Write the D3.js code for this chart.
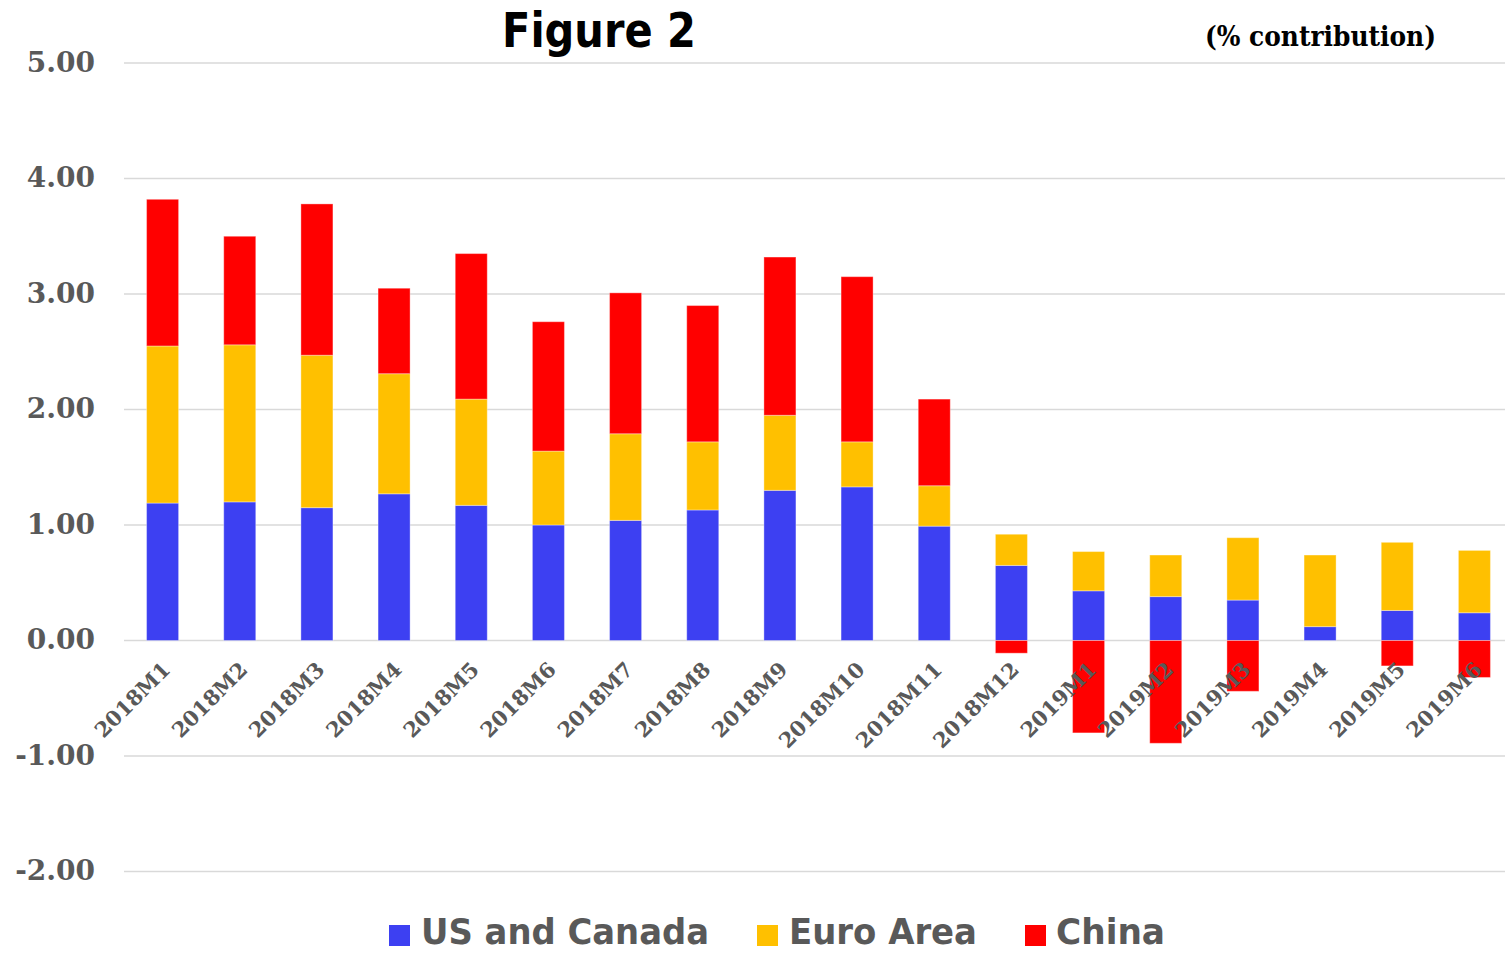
<!DOCTYPE html>
<html>
<head>
<meta charset="utf-8">
<script src="https://cdn.jsdelivr.net/npm/d3@7"></script>
<style>
  html, body { margin: 0; padding: 0; background: #fff; }
  svg { display: block; }
  .tick-lbl { font-family: "DejaVu Serif", serif; font-weight: bold; fill: #595959; }
  .cond { font-family: "Liberation Sans Narrow", "DejaVu Sans Condensed", sans-serif; font-weight: bold; }
</style>
</head>
<body>
<svg id="chart" width="1505" height="953"></svg>
<script>
// categories and series values (% contribution)
const categories = ["2018M1","2018M2","2018M3","2018M4","2018M5","2018M6","2018M7","2018M8","2018M9",
  "2018M10","2018M11","2018M12","2019M1","2019M2","2019M3","2019M4","2019M5","2019M6"];
const usCanada = [1.19, 1.20, 1.15, 1.27, 1.17, 1.00, 1.04, 1.13, 1.30, 1.33, 0.99, 0.65, 0.43, 0.38, 0.35, 0.12, 0.26, 0.24];
const euroArea = [1.36, 1.36, 1.32, 1.04, 0.92, 0.64, 0.75, 0.59, 0.65, 0.39, 0.35, 0.27, 0.34, 0.36, 0.54, 0.62, 0.59, 0.54];
const china    = [1.27, 0.94, 1.31, 0.74, 1.26, 1.12, 1.22, 1.18, 1.37, 1.43, 0.75, -0.11, -0.80, -0.89, -0.44, 0.00, -0.22, -0.32];
const seriesNames = ["US and Canada", "Euro Area", "China"];
const yTicks = [5, 4, 3, 2, 1, 0, -1, -2];

const keys = ["us", "ea", "cn"];
const colors = { us: "#3d40f2", ea: "#ffc000", cn: "#ff0000" };

const svg = d3.select("#chart");

const x = d3.scaleBand().domain(categories).range([124, 1513])
  .paddingInner(0.585).paddingOuter(0.2925);
const y = d3.scaleLinear().domain([-2, 5]).range([871.5, 63]);

// gridlines
svg.append("g").selectAll("line").data(yTicks).join("line")
  .attr("x1", 124).attr("x2", 1505)
  .attr("y1", d => y(d)).attr("y2", d => y(d))
  .attr("stroke", "#d9d9d9").attr("stroke-width", 1.5);

// y tick labels (plain hyphen for negatives, as in the original)
svg.append("g").selectAll("text").data(yTicks).join("text")
  .attr("class", "tick-lbl")
  .attr("x", 95).attr("y", d => y(d) + 1)
  .attr("text-anchor", "end").attr("dominant-baseline", "middle")
  .style("font-size", "28px")
  .text(d => d3.format(".2f")(d).replace("\u2212", "-"));

// stacked bars
const rows = categories.map((c, i) => ({ cat: c, us: usCanada[i], ea: euroArea[i], cn: china[i] }));
const stacked = d3.stack().keys(keys).offset(d3.stackOffsetDiverging)(rows);

svg.append("g").selectAll("g").data(stacked).join("g")
  .attr("fill", d => colors[d.key])
  .selectAll("rect").data(d => d).join("rect")
    .attr("x", d => x(d.data.cat))
    .attr("width", x.bandwidth())
    .attr("y", d => y(Math.max(d[0], d[1])))
    .attr("height", d => Math.abs(y(d[0]) - y(d[1])))
    .attr("stroke", "#fff").attr("stroke-opacity", 0.35).attr("stroke-width", 1);

// x labels, rotated
svg.append("g").selectAll("text").data(categories).join("text")
  .attr("class", "tick-lbl")
  .style("font-size", "21px")
  .attr("text-anchor", "end")
  .attr("transform", d => `translate(${x(d) + x.bandwidth() / 2 + 9},${671}) rotate(-45)`)
  .text(d => d);

// title
svg.append("text").attr("class", "cond")
  .attr("x", 502).attr("y", 47)
  .attr("textLength", 194).attr("lengthAdjust", "spacingAndGlyphs")
  .style("font-size", "48px").attr("fill", "#000")
  .text("Figure 2");

svg.append("text")
  .attr("x", 1205).attr("y", 46)
  .attr("textLength", 231).attr("lengthAdjust", "spacingAndGlyphs")
  .style("font-family", "'DejaVu Serif', serif").style("font-weight", "bold")
  .style("font-size", "27px").attr("fill", "#000")
  .text("(% contribution)");

// legend
const legendPos = [
  { key: "us", sx: 389, tx: 421, tw: 288 },
  { key: "ea", sx: 757, tx: 789, tw: 188 },
  { key: "cn", sx: 1025, tx: 1056, tw: 109 }
];
const lg = svg.append("g").selectAll("g").data(legendPos).join("g");
lg.append("rect")
  .attr("x", d => d.sx).attr("y", 925).attr("width", 21).attr("height", 21)
  .attr("fill", d => colors[d.key]);
lg.append("text").attr("class", "cond")
  .attr("transform", d => `translate(${d.tx},944) scale(1,1.2)`)
  .attr("textLength", d => d.tw).attr("lengthAdjust", "spacingAndGlyphs")
  .style("font-size", "30px").attr("fill", "#595959")
  .text((d, i) => seriesNames[i]);
</script>
</body>
</html>
